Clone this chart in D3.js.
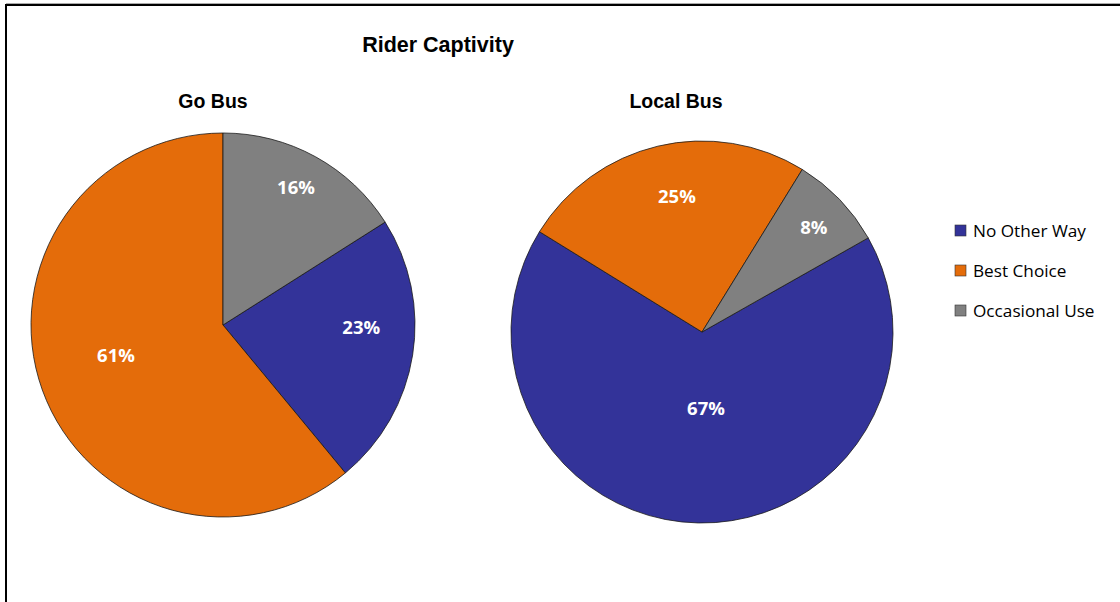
<!DOCTYPE html>
<html>
<head>
<meta charset="utf-8">
<script src="https://cdn.jsdelivr.net/npm/d3@7"></script>
<style>
  html, body { margin: 0; padding: 0; background: #fff; }
  svg { display: block; }
</style>
</head>
<body>
<svg id="chart" width="1120" height="602"></svg>
<script>
// Rider captivity shares by service type
const categories = ["No Other Way", "Best Choice", "Occasional Use"];
const goBusValues = [23, 61, 16];
const localBusValues = [67, 25, 8];
const chartTitles = ["Go Bus", "Local Bus"];
const mainTitle = "Rider Captivity";

const colors = d3.scaleOrdinal()
  .domain(categories)
  .range(["#333399", "#E46C0A", "#808080"]);

const svg = d3.select("#chart");

// frame
svg.append("rect")
  .attr("x", 6).attr("y", 5)
  .attr("width", 1130).attr("height", 610)
  .attr("fill", "none").attr("stroke", "#000").attr("stroke-width", 2);
svg.append("line")
  .attr("x1", 6).attr("x2", 1120).attr("y1", 3.5).attr("y2", 3.5)
  .attr("stroke", "#aaa").attr("stroke-width", 1);

svg.append("text")
  .attr("x", 438).attr("y", 52)
  .attr("text-anchor", "middle")
  .attr("font-family", "Liberation Sans, Arial, sans-serif")
  .attr("font-weight", "bold").attr("font-size", 21.5)
  .attr("fill", "#000")
  .text(mainTitle);

// layout for each pie: centre, radius, rotation of first slice,
// label placement as (angle in degrees clockwise from 12 o'clock, radius fraction)
const pies = [
  { values: goBusValues, title: chartTitles[0], cx: 223, cy: 325, r: 192, titleX: 213,
    rotation: 0.16 * 2 * Math.PI,
    labelAngle: [91, 254, 28], labelR: [0.72, 0.58, 0.81] },
  { values: localBusValues, title: chartTitles[1], cx: 702, cy: 332, r: 191, titleX: 676,
    rotation: 0.168 * 2 * Math.PI,
    labelAngle: [177, 349.5, 47], labelR: [0.40, 0.72, 0.80] }
];

pies.forEach(p => {
  const pie = d3.pie().sort(null)
    .startAngle(p.rotation).endAngle(p.rotation + 2 * Math.PI)
    .value(d => d.v);
  const arcs = pie(p.values.map((v, i) => ({ v, cat: categories[i] })));
  const arc = d3.arc().innerRadius(0).outerRadius(p.r);

  const g = svg.append("g").attr("transform", `translate(${p.cx},${p.cy})`);
  g.selectAll("path").data(arcs).join("path")
    .attr("d", arc)
    .attr("fill", d => colors(d.data.cat))
    .attr("stroke", "#1a1a1a").attr("stroke-width", 0.8)
    .attr("stroke-linejoin", "round");

  g.selectAll("text.lbl").data(arcs).join("text")
    .attr("class", "lbl")
    .attr("transform", (d, i) => {
      const a = p.labelAngle[i] * Math.PI / 180;
      const rr = p.r * p.labelR[i];
      return `translate(${rr * Math.sin(a)},${-rr * Math.cos(a)})`;
    })
    .attr("text-anchor", "middle")
    .attr("dy", "0.35em")
    .attr("font-family", "Open Sans, Noto Sans, sans-serif")
    .attr("font-weight", "bold").attr("font-size", 18.5)
    .attr("fill", "#fff")
    .text(d => d.data.v + "%");

  svg.append("text")
    .attr("x", p.titleX).attr("y", 108)
    .attr("text-anchor", "middle")
    .attr("font-family", "Liberation Sans, Arial, sans-serif")
    .attr("font-weight", "bold").attr("font-size", 19.5)
    .attr("fill", "#000")
    .text(p.title);
});

// legend
const legend = svg.append("g").attr("transform", "translate(955,225)");
const items = legend.selectAll("g").data(categories).join("g")
  .attr("transform", (d, i) => `translate(0,${i * 40})`);
items.append("rect")
  .attr("x", 0).attr("y", 0).attr("width", 11).attr("height", 11)
  .attr("fill", d => colors(d)).attr("stroke", "#333").attr("stroke-width", 0.6);
items.append("text")
  .attr("x", 18).attr("y", 6).attr("dy", "0.36em")
  .attr("font-family", "Open Sans, Noto Sans, sans-serif")
  .attr("font-size", 17.2).attr("fill", "#000")
  .text(d => d);
</script>
</body>
</html>
